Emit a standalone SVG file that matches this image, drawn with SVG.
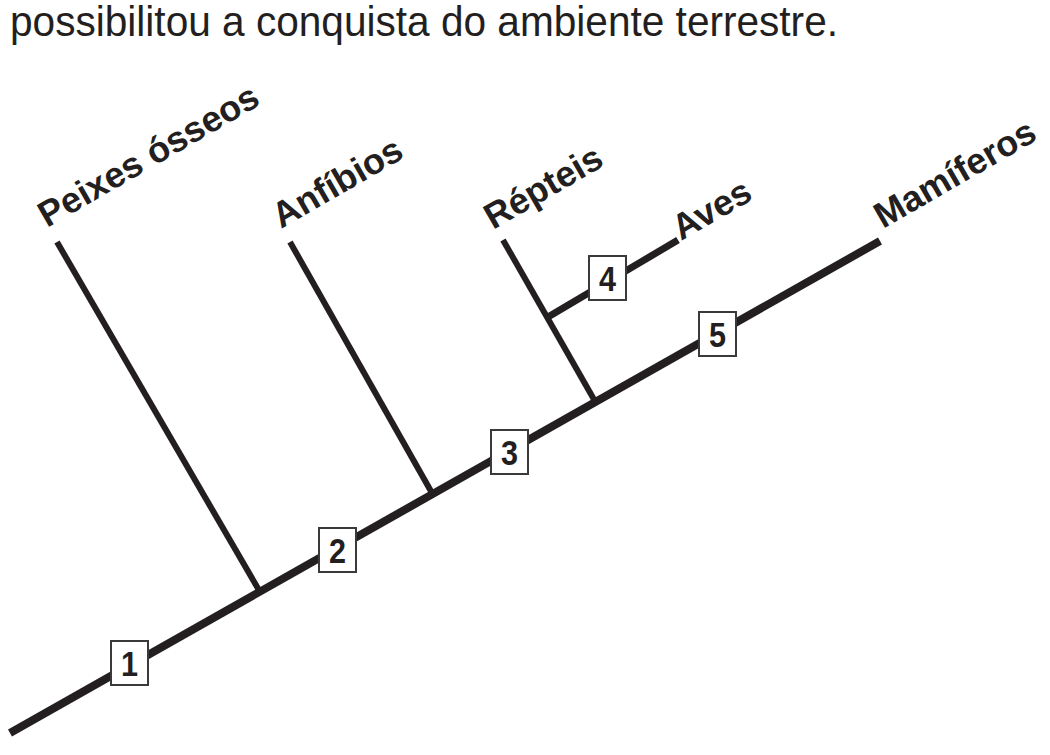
<svg xmlns="http://www.w3.org/2000/svg" width="1050" height="755" viewBox="0 0 1050 755">
<style>
.bg{fill:#ffffff}
.title{font-family:"Liberation Sans",Arial,sans-serif;font-size:42px;fill:#231f20}
.lbl{font-family:"Liberation Sans",Arial,sans-serif;font-size:36px;font-weight:bold;fill:#231f20}
.num{font-family:"Liberation Sans",Arial,sans-serif;font-size:36px;font-weight:bold;fill:#231f20;text-anchor:middle}
.main{stroke:#231f20;stroke-width:8;fill:none}
.br{stroke:#231f20;stroke-width:6;fill:none}
.box{fill:#ffffff;stroke:#3a3a3a;stroke-width:2}
</style>
<rect class="bg" x="0" y="0" width="1050" height="755"/>
<text class="title" x="10" y="36" textLength="828" lengthAdjust="spacingAndGlyphs">possibilitou a conquista do ambiente terrestre.</text>
<g id="connectors">
<line class="main" x1="10" y1="733" x2="880" y2="241"/>
<line class="br" x1="57" y1="242" x2="260" y2="592"/>
<line class="br" x1="290" y1="242" x2="432" y2="493"/>
<line class="br" x1="503" y1="240" x2="596" y2="403"/>
<line class="main" x1="548" y1="317" x2="678" y2="240" style="stroke-width:7"/>
</g>
<g id="peixes"><text class="lbl" transform="translate(47,228) rotate(-30)">Peixes ósseos</text></g>
<g id="anfibios"><text class="lbl" transform="translate(281,229) rotate(-30)">Anfíbios</text></g>
<g id="repteis"><text class="lbl" transform="translate(493,230) rotate(-30)">Répteis</text></g>
<g id="aves"><text class="lbl" transform="translate(681,241) rotate(-30)">Aves</text></g>
<g id="mamiferos"><text class="lbl" transform="translate(883,229) rotate(-30)">Mamíferos</text></g>
<g id="box1"><rect class="box" x="111" y="641" width="37" height="44"/><text class="num" transform="translate(129.5,676) scale(0.85,1)">1</text></g>
<g id="box2"><rect class="box" x="319" y="528" width="37" height="44"/><text class="num" transform="translate(337.5,563) scale(0.85,1)">2</text></g>
<g id="box3"><rect class="box" x="491" y="430" width="37" height="44"/><text class="num" transform="translate(509.5,465) scale(0.85,1)">3</text></g>
<g id="box4"><rect class="box" x="589" y="256" width="37" height="44"/><text class="num" transform="translate(607.5,291) scale(0.85,1)">4</text></g>
<g id="box5"><rect class="box" x="699" y="312" width="37" height="44"/><text class="num" transform="translate(717.5,347) scale(0.85,1)">5</text></g>
</svg>
